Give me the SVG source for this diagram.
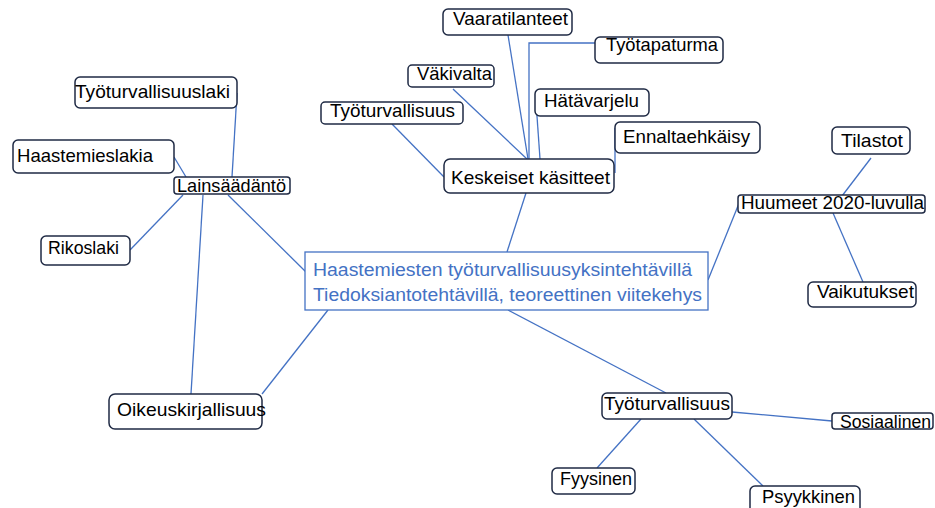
<svg xmlns="http://www.w3.org/2000/svg" width="935" height="508" viewBox="0 0 935 508">
<style>
.n{fill:#fff;stroke:#1f2a44;stroke-width:1.5}
.t{font-family:"Liberation Sans",Arial,sans-serif;font-size:19px;fill:#000}
.c{fill:none;stroke:#4472c4;stroke-width:1.3}
.m{fill:#fff;stroke:#4472c4;stroke-width:1.3}
.mt{font-family:"Liberation Sans",Arial,sans-serif;font-size:17.5px;fill:#4472c4}
</style>
<rect width="935" height="508" fill="#fff"/>
<g id="connectors">
<line class="c" x1="237" y1="93" x2="232" y2="177"/>
<line class="c" x1="174" y1="157" x2="186" y2="177"/>
<line class="c" x1="130" y1="250" x2="183" y2="195"/>
<line class="c" x1="203" y1="195" x2="191" y2="394"/>
<line class="c" x1="228" y1="195" x2="307" y2="273"/>
<line class="c" x1="262" y1="394" x2="328" y2="310"/>
<line class="c" x1="508" y1="35" x2="528" y2="159"/>
<polyline class="c" points="595,43 529,43 529,159"/>
<line class="c" x1="453" y1="89" x2="527" y2="159"/>
<line class="c" x1="536" y1="102" x2="540" y2="159"/>
<line class="c" x1="392" y1="124" x2="444" y2="177"/>
<line class="c" x1="615" y1="128" x2="615" y2="173"/>
<line class="c" x1="526" y1="193" x2="507" y2="252"/>
<line class="c" x1="742" y1="196" x2="708" y2="280"/>
<line class="c" x1="871" y1="158" x2="842" y2="196"/>
<line class="c" x1="833" y1="213" x2="863" y2="282"/>
<line class="c" x1="508" y1="310" x2="666" y2="393"/>
<line class="c" x1="732" y1="412" x2="832" y2="421"/>
<line class="c" x1="641" y1="419" x2="597" y2="468"/>
<line class="c" x1="694" y1="419" x2="763" y2="486"/>
</g>
<g id="center">
<rect class="m" x="305" y="252" width="403" height="58"/>
<text class="mt" x="313" y="276" textLength="379" lengthAdjust="spacingAndGlyphs">Haastemiesten työturvallisuusyksintehtävillä</text>
<text class="mt" x="313" y="301" textLength="389" lengthAdjust="spacingAndGlyphs">Tiedoksiantotehtävillä, teoreettinen viitekehys</text>
</g>
<g id="tyoturvallisuuslaki"><rect class="n" x="75" y="77" width="162" height="31" rx="5"/><text class="t" x="75" y="98" textLength="155" lengthAdjust="spacingAndGlyphs">Työturvallisuuslaki</text></g>
<g id="haastemieslakia"><rect class="n" x="13" y="140" width="161" height="33" rx="5"/><text class="t" x="17" y="162" textLength="136" lengthAdjust="spacingAndGlyphs">Haastemieslakia</text></g>
<g id="lainsaadanto"><rect class="n" x="174" y="177" width="116" height="17" rx="3"/><text class="t" x="177" y="192" textLength="109" lengthAdjust="spacingAndGlyphs">Lainsäädäntö</text></g>
<g id="rikoslaki"><rect class="n" x="41" y="236" width="89" height="29" rx="5"/><text class="t" x="48" y="254" textLength="71" lengthAdjust="spacingAndGlyphs">Rikoslaki</text></g>
<g id="oikeuskirjallisuus"><rect class="n" x="109" y="394" width="153" height="35" rx="6"/><text class="t" x="117" y="416" textLength="149" lengthAdjust="spacingAndGlyphs">Oikeuskirjallisuus</text></g>
<g id="vaaratilanteet"><rect class="n" x="443" y="9" width="129" height="26" rx="5"/><text class="t" x="453" y="25" textLength="115" lengthAdjust="spacingAndGlyphs">Vaaratilanteet</text></g>
<g id="tyotapaturma"><rect class="n" x="595" y="37" width="128" height="26" rx="5"/><text class="t" x="606" y="51" textLength="112" lengthAdjust="spacingAndGlyphs">Työtapaturma</text></g>
<g id="vakivalta"><rect class="n" x="408" y="65" width="86" height="22" rx="4"/><text class="t" x="417" y="80" textLength="75" lengthAdjust="spacingAndGlyphs">Väkivalta</text></g>
<g id="hatavarjelu"><rect class="n" x="535" y="89" width="114" height="27" rx="5"/><text class="t" x="544" y="107" textLength="95" lengthAdjust="spacingAndGlyphs">Hätävarjelu</text></g>
<g id="tyoturvallisuus1"><rect class="n" x="321" y="102" width="142" height="22" rx="4"/><text class="t" x="330" y="117" textLength="125" lengthAdjust="spacingAndGlyphs">Työturvallisuus</text></g>
<g id="ennaltaehkaisy"><rect class="n" x="615" y="122" width="145" height="31" rx="5"/><text class="t" x="623" y="143" textLength="127" lengthAdjust="spacingAndGlyphs">Ennaltaehkäisy</text></g>
<g id="keskeiset"><rect class="n" x="444" y="159" width="170" height="34" rx="6"/><text class="t" x="451" y="184" textLength="159" lengthAdjust="spacingAndGlyphs">Keskeiset käsitteet</text></g>
<g id="tilastot"><rect class="n" x="832" y="127" width="78" height="27" rx="5"/><text class="t" x="841" y="147" textLength="62" lengthAdjust="spacingAndGlyphs">Tilastot</text></g>
<g id="huumeet"><rect class="n" x="738" y="195" width="187" height="18" rx="3"/><text class="t" x="741" y="209" textLength="183" lengthAdjust="spacingAndGlyphs">Huumeet 2020-luvulla</text></g>
<g id="vaikutukset"><rect class="n" x="808" y="282" width="108" height="25" rx="5"/><text class="t" x="817" y="298" textLength="97" lengthAdjust="spacingAndGlyphs">Vaikutukset</text></g>
<g id="tyoturvallisuus2"><rect class="n" x="602" y="393" width="130" height="26" rx="5"/><text class="t" x="604" y="410" textLength="126" lengthAdjust="spacingAndGlyphs">Työturvallisuus</text></g>
<g id="sosiaalinen"><rect class="n" x="832" y="413" width="101" height="16" rx="3"/><text class="t" x="840" y="428" style="font-size:17.5px" textLength="91" lengthAdjust="spacingAndGlyphs">Sosiaalinen</text></g>
<g id="fyysinen"><rect class="n" x="552" y="468" width="83" height="26" rx="5"/><text class="t" x="560" y="485" textLength="72" lengthAdjust="spacingAndGlyphs">Fyysinen</text></g>
<g id="psyykkinen"><rect class="n" x="750" y="486" width="110" height="30" rx="5"/><text class="t" x="762" y="503" textLength="93" lengthAdjust="spacingAndGlyphs">Psyykkinen</text></g>
</svg>
